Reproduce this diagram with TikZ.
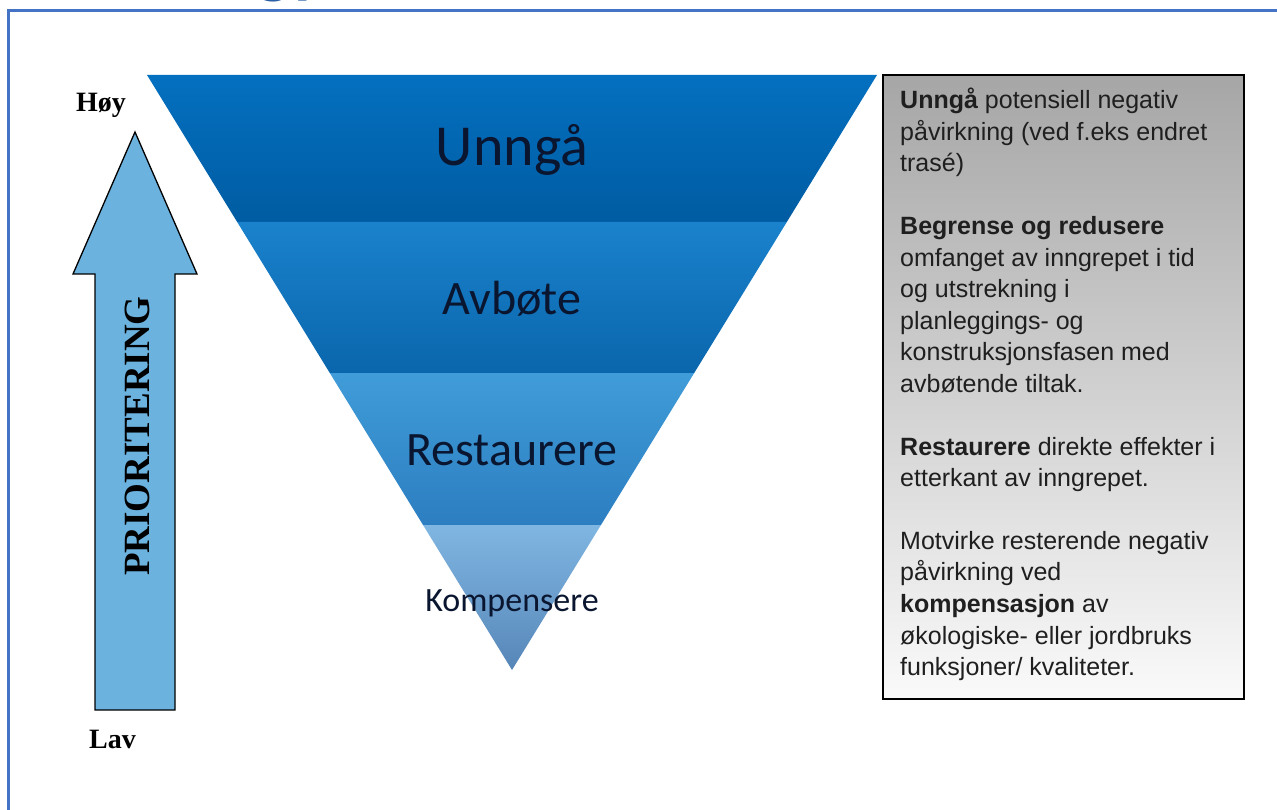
\documentclass[tikz,border=0pt]{standalone}
\usepackage{fontspec}
\setmainfont{Liberation Sans}
\newfontfamily\calibrifont{Carlito}
\newfontfamily\timesfont{Liberation Serif}
\usepackage{tikz}
\usetikzlibrary{positioning, calc}
\definecolor{framebl}{RGB}{68,114,196}
\definecolor{titlebl}{RGB}{43,95,166}
\definecolor{arrowbl}{RGB}{108,178,222}
\definecolor{labelink}{RGB}{10,22,48}
\definecolor{boxtop}{RGB}{166,166,166}
\definecolor{boxbot}{RGB}{250,250,250}
\definecolor{unngatop}{RGB}{4,112,192}
\definecolor{unngabot}{RGB}{0,92,162}
\definecolor{avbotetop}{RGB}{26,130,204}
\definecolor{avbotebot}{RGB}{10,102,172}
\definecolor{restop}{RGB}{64,156,216}
\definecolor{resbot}{RGB}{44,126,192}
\definecolor{komptop}{RGB}{128,182,226}
\definecolor{kompbot}{RGB}{86,134,184}

\tikzset{
  levellabel/.style={draw=none, text=labelink, inner sep=0pt},
  scalelabel/.style={draw=none, text=black, inner sep=0pt, font=\timesfont\bfseries\fontsize{28}{28}\selectfont},
  infotext/.style={draw=none, text=black!88, inner sep=0pt, align=left, font=\fontsize{25}{31.6}\selectfont}
}

\begin{document}
\begin{tikzpicture}[x=1pt, y=-1pt]
\useasboundingbox (0,0) rectangle (1277,810);
\pgfmathsetmacro{\cx}{512}
\pgfmathsetmacro{\topy}{75}
\pgfmathsetmacro{\apexy}{670}
\pgfmathsetmacro{\halfw}{365}

\node[draw=none, text=titlebl, anchor=base west, inner sep=0pt, font=\calibrifont\bfseries\fontsize{74}{74}\selectfont] (title) at (256,-10) {gy,};
\draw[framebl, line width=3pt] (8.5,815) -- (8.5,10.5) -- (1285,10.5);

\foreach \t/\b/\ct/\cb in {75/222/unngatop/unngabot, 222/373/avbotetop/avbotebot, 373/525/restop/resbot, 525/670/komptop/kompbot}{
  \pgfmathsetmacro{\wt}{\halfw/(\apexy-\topy)*(\apexy-\t)}
  \pgfmathsetmacro{\wb}{\halfw/(\apexy-\topy)*(\apexy-\b)}
  \shade[top color=\ct, bottom color=\cb] (\cx-\wt,\t) -- (\cx+\wt,\t) -- (\cx+\wb,\b) -- (\cx-\wb,\b) -- cycle;
}

\node[levellabel, font=\calibrifont\fontsize{58}{58}\selectfont] (unnga) at (\cx,150) {Unngå};
\node[levellabel, font=\calibrifont\fontsize{48}{48}\selectfont] (avbote) at (\cx,299) {Avbøte};
\node[levellabel, font=\calibrifont\fontsize{48}{48}\selectfont] (restaurere) at (\cx,450) {Restaurere};
\node[levellabel, font=\calibrifont\fontsize{34}{34}\selectfont] (kompensere) at (\cx,603) {Kompensere};

\draw[black, line width=1.3pt, fill=arrowbl] (135,132) -- (197,274) -- (175,274) -- (175,710) -- (95,710) -- (95,274) -- (73,274) -- cycle;
\node[draw=none, text=black, rotate=90, inner sep=0pt, font=\timesfont\bfseries\fontsize{37}{37}\selectfont] (prio) at (137,436) {PRIORITERING};
\node[scalelabel, anchor=base west] (hoy) at (76,112) {Høy};
\node[scalelabel, anchor=base west] (lav) at (89,748) {Lav};

\node[draw=black, line width=2pt, anchor=north west, minimum width=361pt, minimum height=624pt, top color=boxtop, bottom color=boxbot, inner sep=0pt] (infobox) at (882,74) {};
\node[infotext, anchor=north west] (infotxt) at ([xshift=18pt, yshift=-14pt]infobox.north west) {%
\textbf{Unngå} potensiell negativ\\
påvirkning (ved f.eks endret\\
trasé)\\[31pt]
\textbf{Begrense og redusere}\\
omfanget av inngrepet i tid\\
og utstrekning i\\
planleggings- og\\
konstruksjonsfasen med\\
avbøtende tiltak.\\[31pt]
\textbf{Restaurere} direkte effekter i\\
etterkant av inngrepet.\\[31pt]
Motvirke resterende negativ\\
påvirkning ved\\
\textbf{kompensasjon} av\\
økologiske- eller jordbruks\\
funksjoner/ kvaliteter.};
\end{tikzpicture}
\end{document}
